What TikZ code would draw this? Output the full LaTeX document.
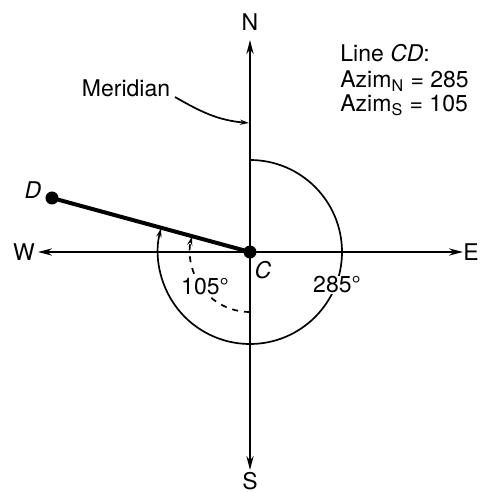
\documentclass[tikz,border=0pt]{standalone}
\usepackage{fontspec}
\setmainfont{TeX Gyre Heros}
\usetikzlibrary{arrows.meta}

\begin{document}
\begin{tikzpicture}[x=0.5pt,y=0.5pt,every node/.style={font=\fontsize{11.5}{13}\selectfont,inner sep=1pt},
axis/.style={line width=1pt,{Stealth[length=7pt,width=3.6pt]}-{Stealth[length=7pt,width=3.6pt]}},
arcline/.style={line width=0.85pt,-{Stealth[length=4.5pt,width=2.6pt]}},
dot/.style={circle,fill=black,inner sep=0pt,minimum size=6.5pt},
lbl/.style={fill=white,inner sep=0.5pt}]
\useasboundingbox (-250,-240) rectangle (230,252);
% axes
\coordinate (C) at (0,0);
\coordinate (nTip) at (0,212);\coordinate (sTip) at (0,-218);
\coordinate (wTip) at (-212,0);\coordinate (eTip) at (213,0);
\draw[axis] (sTip)--(nTip);\draw[axis] (wTip)--(eTip);
\node (N) at (0,230) {N};\node (S) at (0,-229) {S};
\node (W) at (-226,0) {W};\node (E) at (221,0) {E};
% line CD
\node[dot] (D) at (-198,54) {};
\draw[line width=2pt] (D.center)--(C);
\node[dot] (Cdot) at (C) {};
\node (Dlab) at (-217,62) {\itshape D};
\node (Clab) at (13,-18) {\itshape C};
% azimuths
\draw[arcline] (0,92) arc[start angle=90,end angle=-195,radius=92];
\draw[arcline,dashed] (0,-60) arc[start angle=-90,end angle=-195,radius=60];
\node[lbl] (a285) at (87,-33) {285\textdegree};
\node[lbl] (a105) at (-45,-35) {105\textdegree};
% meridian
\node (mer) at (-124,164) {Meridian};
\coordinate (merEnd) at (-1,129);
\draw[arcline] (-75,155) to[out=-30,in=175] (merEnd);
\node[anchor=base west] (line) at (88,190) {Line \textit{CD}:};
\node[anchor=base west] (azN) at (88,164) {Azim$_{\mathrm{N}}$ = 285};
\node[anchor=base west] (azS) at (88,140) {Azim$_{\mathrm{S}}$ = 105};
\end{tikzpicture}
\end{document}
